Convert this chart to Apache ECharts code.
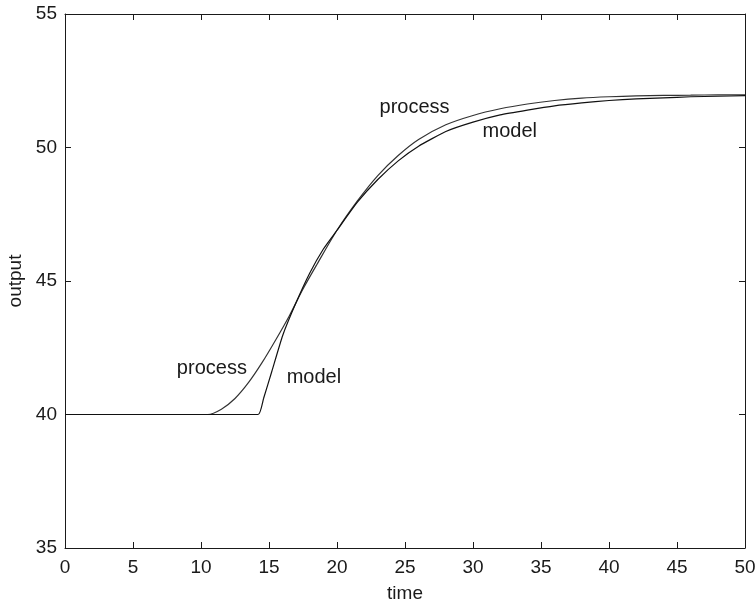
<!DOCTYPE html>
<html>
<head>
<meta charset="utf-8">
<script src="https://cdn.jsdelivr.net/npm/echarts@6/dist/echarts.min.js"></script>
<style>
  html, body { margin: 0; padding: 0; background: #fff; }
  #chart { width: 756px; height: 605px; }
</style>
</head>
<body>
<div id="chart"></div>
<script>
// Step response: measured process output vs. first-order-plus-dead-time model
const processTime = [0, 10.5, 11.5, 12.5, 13.5, 14.5, 15.5, 16.5, 17.5, 18.5, 20, 21.5, 23, 24.5, 26, 28, 30, 32, 34, 36, 38, 40, 42, 44, 46, 48, 50];
const processOutput = [40, 40, 40.2, 40.6, 41.2, 41.95, 42.8, 43.7, 44.7, 45.6, 46.9, 48.0, 48.95, 49.7, 50.3, 50.85, 51.2, 51.45, 51.63, 51.76, 51.85, 51.9, 51.93, 51.95, 51.96, 51.97, 51.97];

const modelTime = [0, 14.2, 14.6, 15.2, 16, 17, 18, 19, 20, 21.5, 23, 24.5, 26, 28, 30, 32, 34, 36, 38, 40, 42, 44, 46, 48, 50];
const modelOutput = [40, 40, 40.6, 41.6, 42.95, 44.2, 45.3, 46.2, 46.9, 47.95, 48.8, 49.5, 50.05, 50.6, 50.95, 51.22, 51.4, 51.56, 51.67, 51.76, 51.82, 51.86, 51.9, 51.92, 51.94];

const xTicks = { min: 0, max: 50, step: 5 };
const yTicks = { min: 35, max: 55, step: 5 };

// Curve annotations: [text, time, output]
const curveLabels = [
  ['process', 10.8, 41.74],
  ['model', 18.3, 41.4],
  ['process', 25.7, 51.5],
  ['model', 32.7, 50.6]
];

const pair = (xs, ys) => xs.map((x, i) => [x, ys[i]]);
const FONT = 'Liberation Sans, Arial, sans-serif';
const INK = '#1a1a1a';

const baseAxis = {
  axisLine: { show: true, onZero: false, lineStyle: { color: INK, width: 1 } },
  axisTick: { show: true, inside: true, length: 6, lineStyle: { color: INK, width: 1 } },
  splitLine: { show: false }
};

const labelMarks = name => ({
  symbol: 'circle', symbolSize: 0,
  label: { show: true, position: 'inside', fontFamily: FONT, fontSize: 20, color: INK, formatter: p => p.name },
  data: curveLabels.filter(l => l[0] === name).map(l => ({ name: l[0], coord: [l[1], l[2]] }))
});

const chart = echarts.init(document.getElementById('chart'), null, { renderer: 'canvas' });
chart.setOption({
  animation: false,
  backgroundColor: '#fff',
  grid: { left: 65, right: 11, top: 14, bottom: 57, containLabel: false, outerBoundsMode: 'none' },
  xAxis: [
    Object.assign({}, baseAxis, {
      type: 'value', position: 'bottom', min: xTicks.min, max: xTicks.max, interval: xTicks.step,
      name: 'time', nameLocation: 'middle', nameGap: 36,
      nameTextStyle: { fontFamily: FONT, fontSize: 19, color: INK },
      axisLabel: { fontFamily: FONT, fontSize: 19, color: INK, margin: 10 }
    }),
    Object.assign({}, baseAxis, {
      type: 'value', position: 'top', min: xTicks.min, max: xTicks.max, interval: xTicks.step,
      axisLabel: { show: false }
    })
  ],
  yAxis: [
    Object.assign({}, baseAxis, {
      type: 'value', position: 'left', min: yTicks.min, max: yTicks.max, interval: yTicks.step,
      name: 'output', nameLocation: 'middle', nameGap: 35, nameRotate: 90,
      nameTextStyle: { fontFamily: FONT, fontSize: 19, color: INK },
      axisLabel: { fontFamily: FONT, fontSize: 19, color: INK, margin: 8 }
    }),
    Object.assign({}, baseAxis, {
      type: 'value', position: 'right', min: yTicks.min, max: yTicks.max, interval: yTicks.step,
      axisLabel: { show: false }
    })
  ],
  series: [
    {
      name: 'process', type: 'line', smooth: 0.3, showSymbol: false,
      data: pair(processTime, processOutput),
      lineStyle: { color: '#333', width: 1.2 },
      markPoint: labelMarks('process')
    },
    {
      name: 'model', type: 'line', smooth: 0.15, showSymbol: false,
      data: pair(modelTime, modelOutput),
      lineStyle: { color: '#111', width: 1.2 },
      markPoint: labelMarks('model')
    }
  ]
});
</script>
</body>
</html>
